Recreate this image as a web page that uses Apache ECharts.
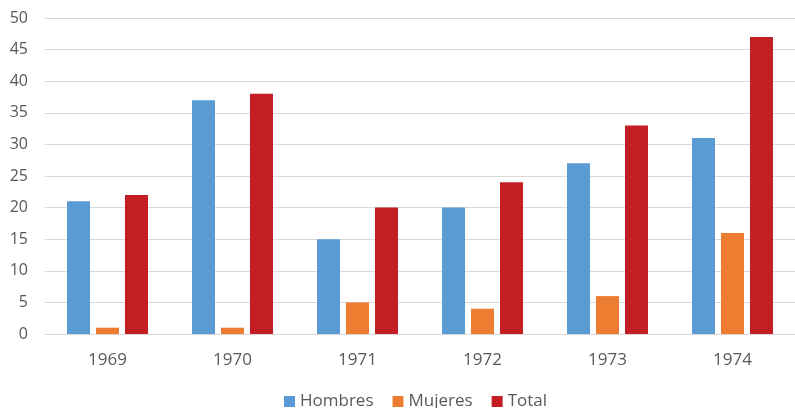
<!DOCTYPE html>
<html><head><meta charset="utf-8">
<script src="https://cdn.jsdelivr.net/npm/echarts@6/dist/echarts.min.js"></script>
<style>html,body{margin:0;padding:0;background:#fff}#c{width:795px;height:408px}</style>
</head><body><div id="c"></div>
<script>
const categories = ['1969','1970','1971','1972','1973','1974'];
const hombres = [21, 37, 15, 20, 27, 31];
const mujeres = [1, 1, 5, 4, 6, 16];
const total = [22, 38, 20, 24, 33, 47];
const yTicks = {min: 0, max: 50, interval: 5};

const chart = echarts.init(document.getElementById('c'), null, {renderer: 'canvas'});
const font = '"Open Sans", sans-serif';
chart.setOption({
  animation: false,
  color: ['#5B9BD5', '#ED7D31', '#C41E25'],
  grid: {left: 45, right: 0, top: 18, bottom: 74, containLabel: false},
  legend: {
    top: 393, left: 284, padding: 0, itemWidth: 11, itemHeight: 11, itemGap: 19,
    icon: 'rect',
    textStyle: {color: '#595959', fontSize: 17, fontFamily: font}
  },
  xAxis: {
    type: 'category', data: categories,
    axisLine: {lineStyle: {color: '#D9D9D9', width: 1}},
    axisTick: {show: false},
    axisLabel: {color: '#595959', fontSize: 17, fontFamily: font, margin: 18}
  },
  yAxis: {
    type: 'value', min: yTicks.min, max: yTicks.max, interval: yTicks.interval,
    axisLine: {show: false}, axisTick: {show: false},
    splitLine: {lineStyle: {color: '#D9D9D9', width: 1}},
    axisLabel: {color: '#595959', fontSize: 16, fontFamily: font, margin: 17}
  },
  series: [
    {name: 'Hombres', type: 'bar', data: hombres, barWidth: 23, barGap: '26%', barCategoryGap: '35%'},
    {name: 'Mujeres', type: 'bar', data: mujeres, barWidth: 23, barGap: '26%'},
    {name: 'Total', type: 'bar', data: total, barWidth: 23, barGap: '26%'}
  ]
});
</script></body></html>
